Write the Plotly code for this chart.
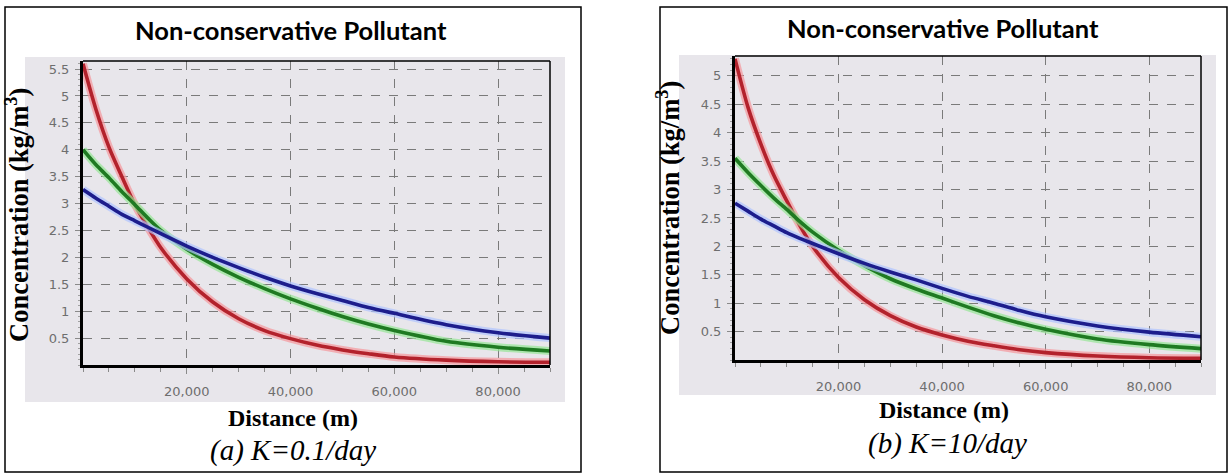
import plotly.graph_objects as go

W, H = 1230, 474

# ---------------- data ----------------
distance_m = [0, 2500, 5000, 7500, 10000, 12500, 15000, 20000, 25000, 30000,
              35000, 40000, 45000, 50000, 55000, 60000, 70000, 80000, 90000]

# (a) K = 0.1/day
a_red = [5.6, 4.75, 4.05, 3.5, 2.98, 2.56, 2.18, 1.6, 1.17, 0.86,
         0.64, 0.49, 0.37, 0.28, 0.21, 0.15, 0.09, 0.06, 0.05]
a_green = [4.0, 3.72, 3.48, 3.22, 2.98, 2.73, 2.5, 2.15, 1.87, 1.63,
           1.42, 1.23, 1.06, 0.9, 0.76, 0.64, 0.44, 0.33, 0.26]
a_blue = [3.26, 3.1, 2.95, 2.8, 2.68, 2.56, 2.44, 2.21, 2.0, 1.81,
          1.63, 1.47, 1.33, 1.2, 1.07, 0.96, 0.75, 0.6, 0.5]

# (b) K = 10/day
b_red = [5.3, 4.45, 3.8, 3.25, 2.8, 2.37, 2.0, 1.45, 1.06, 0.78,
         0.58, 0.44, 0.33, 0.25, 0.18, 0.13, 0.07, 0.04, 0.03]
b_green = [3.55, 3.3, 3.07, 2.85, 2.65, 2.44, 2.25, 1.93, 1.66, 1.43,
           1.25, 1.09, 0.93, 0.78, 0.65, 0.54, 0.37, 0.27, 0.2]
b_blue = [2.76, 2.62, 2.48, 2.36, 2.24, 2.14, 2.05, 1.87, 1.7, 1.55,
          1.41, 1.26, 1.12, 1.0, 0.87, 0.76, 0.6, 0.49, 0.41]

x_tickvals = [20000, 40000, 60000, 80000]
x_ticktext = ["20,000", "40,000", "60,000", "80,000"]
a_ytickvals = [0.5, 1, 1.5, 2, 2.5, 3, 3.5, 4, 4.5, 5, 5.5]
a_yticktext = ["0.5", "1", "1.5", "2", "2.5", "3", "3.5", "4", "4.5", "5", "5.5"]
b_ytickvals = [0.5, 1, 1.5, 2, 2.5, 3, 3.5, 4, 4.5, 5]
b_yticktext = ["0.5", "1", "1.5", "2", "2.5", "3", "3.5", "4", "4.5", "5"]

chart_title = "Non-conservative Pollutant"
x_title = "Distance (m)"
y_title = "Concentration (kg/m<sup>3</sup>)"
captions = ["(a) K=0.1/day", "(b) K=10/day"]

# ---------------- styling ----------------
series_style = [
    ("#b3222c", "rgba(245,150,155,0.7)"),   # red
    ("#1f7a22", "rgba(150,230,150,0.7)"),   # green
    ("#1d1d8c", "rgba(175,195,255,0.7)"),   # blue
]
GRAY_BG = "#e8e6eb"


def px_x(p):
    return p / W


def px_y(p):
    return 1 - p / H


fig = go.Figure()

panels = [
    dict(xa="x", ya="y", series=[a_red, a_green, a_blue]),
    dict(xa="x2", ya="y2", series=[b_red, b_green, b_blue]),
]
for pnl in panels:
    for vals, (col, halo) in zip(pnl["series"], series_style):
        fig.add_trace(go.Scatter(x=distance_m, y=vals, mode="lines",
                                 line=dict(color=halo, width=8, shape="spline", smoothing=0.8),
                                 xaxis=pnl["xa"], yaxis=pnl["ya"],
                                 hoverinfo="skip", showlegend=False))
        fig.add_trace(go.Scatter(x=distance_m, y=vals, mode="lines",
                                 line=dict(color=col, width=3.6, shape="spline", smoothing=0.8),
                                 xaxis=pnl["xa"], yaxis=pnl["ya"],
                                 showlegend=False))

tickfont = dict(family="DejaVu Sans, Verdana, sans-serif", size=13, color="#6e6e6e")

common_x = dict(range=[0, 90000], tickvals=x_tickvals, ticktext=x_ticktext,
                showgrid=True, gridcolor="#7a7a7a", griddash="dash", gridwidth=1,
                zeroline=False, showline=True, linecolor="black", linewidth=3,
                ticks="outside", ticklen=6, tickcolor="#8a8a8a", tickwidth=1,
                minor=dict(dtick=5000, tick0=0, ticks="outside", ticklen=4,
                           tickcolor="#8a8a8a", showgrid=False),
                tickfont=tickfont, ticklabelstandoff=6, fixedrange=True)
common_y = dict(showgrid=True, gridcolor="#7a7a7a", griddash="dash", gridwidth=1,
                zeroline=False, showline=True, linecolor="black", linewidth=3,
                ticks="outside", ticklen=5, tickcolor="#8a8a8a", tickwidth=1,
                minor=dict(dtick=0.1, tick0=0, ticks="outside", ticklen=2,
                           tickcolor="#a0a0a0", showgrid=False),
                tickfont=tickfont, ticklabelstandoff=3, fixedrange=True)

fig.update_layout(
    xaxis=dict(domain=[px_x(83), px_x(550)], anchor="y", **common_x),
    yaxis=dict(domain=[px_y(365), px_y(61)], anchor="x", range=[0, 5.65],
               tickvals=a_ytickvals, ticktext=a_yticktext, **common_y),
    xaxis2=dict(domain=[px_x(735), px_x(1201)], anchor="y2", **common_x),
    yaxis2=dict(domain=[px_y(360), px_y(56)], anchor="x2", range=[0, 5.35],
                tickvals=b_ytickvals, ticktext=b_yticktext, **common_y),
)

shapes = []
# outer frames
for (x0, y0, x1, y1) in [(5, 7, 581, 472), (660, 7, 1227, 472)]:
    shapes.append(dict(type="rect", xref="paper", yref="paper",
                       x0=px_x(x0), x1=px_x(x1), y0=px_y(y1), y1=px_y(y0),
                       line=dict(color="black", width=1.5), fillcolor="rgba(0,0,0,0)",
                       layer="above"))
# gray chart backgrounds
for (x0, y0, x1, y1) in [(25, 57, 565, 402), (679, 55, 1216, 395)]:
    shapes.append(dict(type="rect", xref="paper", yref="paper",
                       x0=px_x(x0), x1=px_x(x1), y0=px_y(y1), y1=px_y(y0),
                       line=dict(width=0), fillcolor=GRAY_BG, layer="below"))
# thin top / right frame of each plot area
for xr, yr in [("x domain", "y domain"), ("x2 domain", "y2 domain")]:
    shapes.append(dict(type="line", xref=xr, yref=yr, x0=0, x1=1, y0=1, y1=1,
                       line=dict(color="black", width=1.5), layer="above"))
    shapes.append(dict(type="line", xref=xr, yref=yr, x0=1, x1=1, y0=0, y1=1,
                       line=dict(color="black", width=1.5), layer="above"))

annotations = []
title_font = dict(family="Lato, Open Sans, sans-serif", size=25.5, color="black")
times_bold = dict(family="Liberation Serif, Times New Roman, serif", size=24, color="black")
times_bold_y = dict(family="Liberation Serif, Times New Roman, serif", size=26.5, color="black")
times_ital = dict(family="Liberation Serif, Times New Roman, serif", size=29, color="black")

# (title x, title y, x-title x, x-title y, y-title x, y-title y, caption x, caption y)
panel_text_pos = [(291, 30, 293, 418, 17, 215, 293, 450),
                  (943, 28, 944, 410, 668, 208, 947, 443)]

for (tx, ty, xtx, xty, ytx, yty, cpx, cpy), cap in zip(panel_text_pos, captions):
    annotations.append(dict(text="<b>%s</b>" % chart_title, x=px_x(tx), y=px_y(ty),
                            xref="paper", yref="paper", showarrow=False,
                            xanchor="center", yanchor="middle", font=title_font))
    annotations.append(dict(text="<b>%s</b>" % x_title, x=px_x(xtx), y=px_y(xty),
                            xref="paper", yref="paper", showarrow=False,
                            xanchor="center", yanchor="middle", font=times_bold))
    annotations.append(dict(text="<b>%s</b>" % y_title, x=px_x(ytx), y=px_y(yty),
                            xref="paper", yref="paper", showarrow=False, textangle=-90,
                            xanchor="center", yanchor="middle", font=times_bold_y))
    annotations.append(dict(text="<i>%s</i>" % cap, x=px_x(cpx), y=px_y(cpy),
                            xref="paper", yref="paper", showarrow=False,
                            xanchor="center", yanchor="middle", font=times_ital))

fig.update_layout(
    width=W, height=H, margin=dict(l=0, r=0, t=0, b=0),
    paper_bgcolor="white", plot_bgcolor=GRAY_BG,
    shapes=shapes, annotations=annotations, showlegend=False,
)

fig.write_html("out.html", config={"displayModeBar": False},
               post_script="document.body.style.margin='0px';document.body.style.overflow='hidden';")
